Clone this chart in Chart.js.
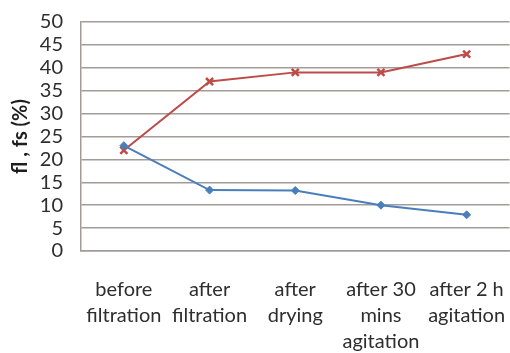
<!DOCTYPE html>
<html>
<head>
<meta charset="utf-8">
<script src="https://cdn.jsdelivr.net/npm/chart.js@4"></script>
<style>
  html, body { margin: 0; padding: 0; background: #fff; overflow: hidden; }
  #wrap { width: 510px; height: 353px; overflow: hidden; }
</style>
</head>
<body>
<div id="wrap"><canvas id="fChart" width="517" height="353"></canvas></div>
<script>
// categories (multiline labels)
const stages = [
    ['before', 'filtration'],
    ['after', 'filtration'],
    ['after', 'drying'],
    ['after 30', 'mins', 'agitation'],
    ['after 2 h', 'agitation']
];
// series
const fsValues = [23, 13.3, 13.2, 10, 7.9];
const flValues = [22, 37, 39, 39, 43];
const yTicks = [0, 5, 10, 15, 20, 25, 30, 35, 40, 45, 50];

const gridColor = '#a39b98';
const textColor = '#2e2e2e';
const font = 'Lato';

const ctx = document.getElementById('fChart').getContext('2d');
new Chart(ctx, {
    type: 'line',
    data: {
        labels: stages,
        datasets: [{
            label: 'fs',
            data: fsValues,
            borderColor: '#4a7ebb',
            backgroundColor: '#4a7ebb',
            borderWidth: 2,
            pointStyle: 'rectRot',
            pointRadius: 4,
            pointBorderWidth: 1,
            tension: 0
        }, {
            label: 'fl',
            data: flValues,
            borderColor: '#be4b48',
            backgroundColor: '#be4b48',
            borderWidth: 2,
            pointStyle: 'crossRot',
            pointRadius: 5,
            pointBorderWidth: 2.5,
            tension: 0
        }]
    },
    options: {
        responsive: false,
        animation: false,
        layout: { padding: { top: 22, right: 0, left: 0, bottom: 0 } },
        plugins: {
            legend: { display: false },
            tooltip: { enabled: false }
        },
        scales: {
            x: {
                offset: true,
                grid: { display: false, drawTicks: false },
                border: { color: gridColor, width: 1.5 },
                ticks: {
                    color: textColor,
                    maxRotation: 0,
                    autoSkip: false,
                    padding: 26,
                    font: { family: font, size: 20, lineHeight: 1.3 }
                },
                afterFit: scale => {
                    scale.height = 102;
                    scale.paddingLeft = 0;
                    scale.paddingRight = 0;
                }
            },
            y: {
                min: 0,
                max: 50,
                afterBuildTicks: scale => {
                    scale.ticks = yTicks.map(v => ({ value: v }));
                },
                grid: { color: gridColor, lineWidth: 1.5, drawTicks: false },
                border: { color: gridColor, width: 1.5 },
                ticks: {
                    color: textColor,
                    autoSkip: false,
                    padding: 18,
                    font: { family: font, size: 20 }
                },
                title: {
                    display: true,
                    text: 'fl , fs (%)',
                    color: '#1e1e1e',
                    padding: { top: 9, bottom: 0 },
                    font: { family: font, size: 20, weight: 'bold' }
                },
                afterFit: scale => {
                    scale.width = 81;
                    scale.paddingTop = 0;
                    scale.paddingBottom = 0;
                }
            }
        }
    }
});
</script>
</body>
</html>
